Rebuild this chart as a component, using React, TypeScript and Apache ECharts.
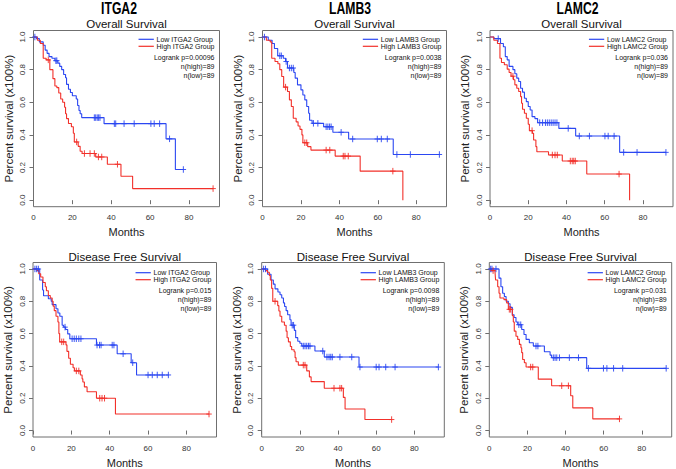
import React, { useEffect, useRef } from 'react';
import * as echarts from 'echarts';

// ---------- DATA ----------
const genes = ['ITGA2', 'LAMB3', 'LAMC2'];
const survivalTypes = ['Overall Survival', 'Disease Free Survival'];
const logrankP = [
  ['0.00096', '0.0038', '0.036'],
  ['0.015', '0.0098', '0.031'],
];
const nHigh = [[89, 89, 89], [89, 89, 89]];
const nLow = [[89, 89, 89], [89, 89, 89]];
const xTicks = [0, 20, 40, 60, 80];
const yTicks = [0, 0.2, 0.4, 0.6, 0.8, 1.0];

// ITGA2 overall survival
const itga2OsLowTimes = [1.5, 3, 5, 6, 7, 8, 9.5, 11, 12.5, 13.5, 14.5, 15.5, 16.5, 17, 18, 19, 20, 22, 22.7, 23.4, 24, 24.8, 36.3, 68.2, 73];
const itga2OsLowSurv = [0.99, 0.97, 0.95, 0.92, 0.9, 0.88, 0.87, 0.855, 0.84, 0.82, 0.8, 0.77, 0.75, 0.71, 0.68, 0.66, 0.64, 0.62, 0.58, 0.55, 0.53, 0.506, 0.469, 0.376, 0.188];
const itga2OsLowCensor = [0.7, 11.5, 12, 31.3, 32, 32.8, 33.5, 34.2, 41.6, 42.3, 46.6, 51.8, 60.4, 62.1, 64.9, 70, 77.1];
const itga2OsHighTimes = [2, 3.5, 5, 6.5, 8.4, 10, 11, 12, 13, 14, 15, 16, 16.5, 17, 18, 19.5, 20.5, 21, 23, 24, 25, 32, 38, 45, 51];
const itga2OsHighSurv = [0.98, 0.96, 0.87, 0.86, 0.8, 0.745, 0.7, 0.69, 0.657, 0.62, 0.6, 0.57, 0.53, 0.5, 0.47, 0.45, 0.41, 0.357, 0.33, 0.3, 0.286, 0.265, 0.22, 0.147, 0.071];
const itga2OsHighCensor = [7.6, 22.2, 26.2, 29.1, 31.3, 33.4, 35.1, 43.2, 92.4];

// LAMB3 overall survival
const lamb3OsLowTimes = [3, 5, 6.2, 7.9, 10.8, 12, 13, 16.3, 17, 18.2, 20, 21, 22, 23, 24, 24.5, 25.8, 31.8, 36.6, 44.8, 68];
const lamb3OsLowSurv = [0.98, 0.96, 0.93, 0.885, 0.87, 0.85, 0.81, 0.783, 0.748, 0.707, 0.676, 0.645, 0.615, 0.574, 0.533, 0.49, 0.471, 0.45, 0.416, 0.375, 0.28];
const lamb3OsLowCensor = [1, 9, 9.8, 12.3, 14, 15, 16, 26.5, 28.8, 33.1, 34, 34.9, 35.7, 40.9, 46.9, 59.7, 61.8, 64.9, 69.9, 76.9, 92];
const lamb3OsHighTimes = [2, 4, 4.8, 6.5, 8, 9, 10, 11, 13, 14, 15, 16, 17.5, 18.5, 19.5, 20.5, 21, 23.5, 25.2, 37.8, 50.8, 73];
const lamb3OsHighSurv = [0.98, 0.97, 0.87, 0.85, 0.836, 0.8, 0.758, 0.693, 0.666, 0.615, 0.574, 0.502, 0.48, 0.455, 0.434, 0.4, 0.352, 0.328, 0.307, 0.27, 0.178, 0.0];
const lamb3OsHighCensor = [12, 22, 23, 33.1, 35, 42, 42.9, 44.6, 67.8];

// LAMC2 overall survival
const lamc2OsLowTimes = [2, 5.5, 7, 8, 9, 10, 12, 13, 14, 15, 16, 17, 18, 19, 20, 21, 22, 23.5, 24.9, 36, 44.8, 67.8];
const lamc2OsLowSurv = [0.99, 0.96, 0.94, 0.88, 0.86, 0.82, 0.8, 0.775, 0.748, 0.727, 0.686, 0.662, 0.625, 0.604, 0.574, 0.553, 0.512, 0.5, 0.475, 0.44, 0.393, 0.293];
const lamc2OsLowCensor = [4.3, 26, 27.5, 29, 30, 31, 32, 33, 34, 35, 40.9, 46.7, 52, 60.1, 61.8, 64.9, 69.9, 76.9, 92];
const lamc2OsHighTimes = [2, 3.9, 5.2, 6, 7.5, 9, 10, 11, 12.3, 13, 14, 15, 16, 16.5, 17, 18, 19, 20, 20.6, 22.2, 22.8, 24, 24.5, 30.6, 37.8, 50.6, 73];
const lamc2OsHighSurv = [0.98, 0.96, 0.87, 0.844, 0.83, 0.803, 0.783, 0.76, 0.738, 0.707, 0.686, 0.666, 0.635, 0.594, 0.557, 0.533, 0.502, 0.465, 0.426, 0.41, 0.369, 0.328, 0.297, 0.277, 0.24, 0.16, 0.0];
const lamc2OsHighCensor = [12, 22, 32.6, 34, 35.2, 42, 43, 43.8, 44.6, 67.5];

// ITGA2 disease free survival
const itga2DfsLowTimes = [3.5, 5, 5.5, 8, 9.5, 10, 12, 13, 14, 15.2, 16, 17, 18.1, 19.2, 33.1, 43.9, 51.2, 54];
const itga2DfsLowSurv = [0.932, 0.87, 0.834, 0.816, 0.8, 0.779, 0.754, 0.727, 0.707, 0.652, 0.64, 0.625, 0.598, 0.568, 0.529, 0.475, 0.42, 0.344];
const itga2DfsLowCensor = [1, 1.9, 2.8, 16.7, 20.4, 21.5, 22.6, 23.9, 25, 33.4, 34.7, 35.5, 41.3, 42.2, 47, 52, 60, 62.2, 64.8, 67.4, 70.6];
const itga2DfsHighTimes = [2, 3, 4, 5.2, 6.4, 7, 8, 9, 10, 10.5, 11.1, 12, 13, 13.5, 13.9, 17.2, 17.7, 18.6, 19.5, 20.9, 21.6, 24.7, 25.6, 26, 26.8, 28.2, 33.1, 43];
const itga2DfsHighSurv = [0.99, 0.97, 0.95, 0.916, 0.89, 0.865, 0.836, 0.82, 0.8, 0.77, 0.742, 0.707, 0.672, 0.6, 0.549, 0.53, 0.49, 0.447, 0.41, 0.389, 0.369, 0.344, 0.32, 0.3, 0.27, 0.24, 0.2, 0.102];
const itga2DfsHighCensor = [15, 16, 22.6, 23.9, 34.8, 36, 37.3, 91.8];

// LAMB3 disease free survival
const lamb3DfsLowTimes = [3.1, 4.9, 6.1, 7, 8.5, 9.6, 10.5, 11.4, 12, 12.8, 13.6, 14.8, 15.4, 17.1, 17.8, 18.9, 20, 21, 27.9, 32.8, 51];
const lamb3DfsLowSurv = [0.967, 0.932, 0.906, 0.877, 0.857, 0.84, 0.82, 0.79, 0.768, 0.742, 0.717, 0.686, 0.652, 0.62, 0.575, 0.553, 0.54, 0.523, 0.492, 0.455, 0.393];
const lamb3DfsLowCensor = [1, 2, 16, 16.7, 21.8, 22.7, 23.6, 24.5, 25.3, 32, 34.2, 35.3, 36.2, 37, 41, 47.2, 51.5, 60, 61.5, 65, 69.9, 92.6];
const lamb3DfsHighTimes = [2, 3, 4, 4.5, 5.2, 5.8, 8.4, 9, 9.6, 10.5, 11.9, 12.8, 13.3, 14, 15, 15.7, 17, 17.5, 18, 19.2, 23.6, 25, 25.9, 32.8, 42.8, 43.7, 54.1];
const lamb3DfsHighSurv = [0.99, 0.98, 0.96, 0.932, 0.88, 0.8, 0.773, 0.74, 0.707, 0.672, 0.652, 0.615, 0.574, 0.549, 0.52, 0.5, 0.488, 0.451, 0.426, 0.405, 0.369, 0.332, 0.303, 0.262, 0.205, 0.133, 0.068];
const lamb3DfsHighCensor = [7, 21.8, 22.7, 37.9, 41, 41.9, 68.1];

// LAMC2 disease free survival
const lamc2DfsLowTimes = [5.1, 6.1, 7, 7.9, 8.8, 10, 10.9, 12.1, 13, 14, 14.9, 17, 18.2, 19.3, 21, 23.1, 28.9, 31.9, 32.7, 51.1];
const lamc2DfsLowSurv = [0.943, 0.89, 0.85, 0.83, 0.8, 0.785, 0.762, 0.717, 0.7, 0.672, 0.655, 0.625, 0.594, 0.564, 0.543, 0.523, 0.488, 0.467, 0.451, 0.385];
const lamc2DfsLowCensor = [0.7, 1.4, 3.5, 15.5, 16.5, 24.5, 25.5, 33.6, 34.5, 35.4, 36.8, 42, 46.8, 52, 59.9, 61.7, 65.2, 70, 92.8];
const lamc2DfsHighTimes = [1, 3, 3.3, 4.4, 5.1, 5.6, 7.7, 9.1, 10, 12.1, 12.6, 13.1, 14, 14.9, 15.8, 16.6, 17, 17.5, 18.4, 19.3, 25.7, 32.7, 42.7, 43.8, 54.3];
const lamc2DfsHighSurv = [0.99, 0.98, 0.932, 0.89, 0.85, 0.82, 0.81, 0.79, 0.75, 0.711, 0.672, 0.615, 0.584, 0.564, 0.533, 0.512, 0.482, 0.44, 0.42, 0.393, 0.318, 0.277, 0.215, 0.14, 0.072];
const lamc2DfsHighCensor = [2, 10.5, 11.2, 21.7, 22.8, 38, 41.5, 68.3];

// ---------- LAYOUT / STYLE ----------
const W = 676;
const H = 469;
const FONT = '"Liberation Sans", Arial, Helvetica, sans-serif';
const BLUE = '#2b47f2';
const RED = '#f2302a';
const X_MAX = 95.7;
const Y_MIN = -0.04;
const Y_MAX = 1.04;
const boxLeft = [[33.5, 262.5, 490], [33, 261.7, 489.3]];
const boxRight = [[219.5, 446.5, 673], [216.5, 444.3, 671.7]];
const boxTop = [30.5, 262.5];
const boxBottom = [206.7, 437.5];
const geneTitleX = [119, 350, 577.5];

type Curve = { times: number[]; surv: number[]; censor: number[] };
const panels: { low: Curve; high: Curve }[][] = [
  [
    { low: { times: itga2OsLowTimes, surv: itga2OsLowSurv, censor: itga2OsLowCensor }, high: { times: itga2OsHighTimes, surv: itga2OsHighSurv, censor: itga2OsHighCensor } },
    { low: { times: lamb3OsLowTimes, surv: lamb3OsLowSurv, censor: lamb3OsLowCensor }, high: { times: lamb3OsHighTimes, surv: lamb3OsHighSurv, censor: lamb3OsHighCensor } },
    { low: { times: lamc2OsLowTimes, surv: lamc2OsLowSurv, censor: lamc2OsLowCensor }, high: { times: lamc2OsHighTimes, surv: lamc2OsHighSurv, censor: lamc2OsHighCensor } },
  ],
  [
    { low: { times: itga2DfsLowTimes, surv: itga2DfsLowSurv, censor: itga2DfsLowCensor }, high: { times: itga2DfsHighTimes, surv: itga2DfsHighSurv, censor: itga2DfsHighCensor } },
    { low: { times: lamb3DfsLowTimes, surv: lamb3DfsLowSurv, censor: lamb3DfsLowCensor }, high: { times: lamb3DfsHighTimes, surv: lamb3DfsHighSurv, censor: lamb3DfsHighCensor } },
    { low: { times: lamc2DfsLowTimes, surv: lamc2DfsLowSurv, censor: lamc2DfsLowCensor }, high: { times: lamc2DfsHighTimes, surv: lamc2DfsHighSurv, censor: lamc2DfsHighCensor } },
  ],
];

function stepValue(c: Curve, t: number): number {
  let v = 1;
  for (let i = 0; i < c.times.length; i++) {
    if (c.times[i] <= t) v = c.surv[i];
  }
  return v;
}

function stepData(c: Curve): number[][] {
  const pts: number[][] = [[0, 1]];
  c.times.forEach((t, i) => pts.push([t, c.surv[i]]));
  const lastT = c.times[c.times.length - 1];
  const lastC = c.censor.length ? c.censor[c.censor.length - 1] : 0;
  const end = Math.max(lastT, lastC);
  pts.push([end, c.surv[c.surv.length - 1]]);
  return pts;
}

let measureCtx: CanvasRenderingContext2D | null = null;
function textWidth(text: string, size: number): number {
  if (!measureCtx) measureCtx = document.createElement('canvas').getContext('2d');
  if (!measureCtx) return text.length * size * 0.55;
  measureCtx.font = `${size}px ${FONT}`;
  return measureCtx.measureText(text).width;
}

const PLUS = 'path://M0,5L10,5M5,0L5,10';

function buildOption() {
  const grid: any[] = [];
  const xAxis: any[] = [];
  const yAxis: any[] = [];
  const series: any[] = [];
  const graphic: any[] = [];
  let idx = 0;
  for (let r = 0; r < 2; r++) {
    for (let c = 0; c < 3; c++) {
      const L = boxLeft[r][c];
      const R = boxRight[r][c];
      const T = boxTop[r];
      const B = boxBottom[r];
      grid.push({
        left: L, top: T, width: R - L, height: B - T,
        show: true, borderColor: '#6f6f6f', borderWidth: 1, backgroundColor: 'transparent',
      });
      xAxis.push({
        type: 'value', gridIndex: idx, min: 0, max: X_MAX,
        axisLine: { show: false },
        axisTick: { show: true, length: 4, inside: false, customValues: xTicks, lineStyle: { color: '#6f6f6f', width: 1 } },
        axisLabel: { customValues: xTicks, fontSize: 8, color: '#333', margin: 7, fontFamily: FONT },
        splitLine: { show: false },
        name: 'Months', nameLocation: 'middle', nameGap: 20,
        nameTextStyle: { fontSize: 11, color: '#222', fontFamily: FONT },
      });
      yAxis.push({
        type: 'value', gridIndex: idx, min: Y_MIN, max: Y_MAX,
        axisLine: { show: false },
        axisTick: { show: true, length: 4, inside: false, customValues: yTicks, lineStyle: { color: '#6f6f6f', width: 1 } },
        axisLabel: {
          customValues: yTicks, fontSize: 8, color: '#333', margin: 7, rotate: 90, fontFamily: FONT,
          formatter: (v: number) => v.toFixed(1),
        },
        splitLine: { show: false },
        name: 'Percent survival (x100%)', nameLocation: 'middle', nameGap: 19, nameRotate: 90,
        nameTextStyle: { fontSize: 11.5, color: '#222', fontFamily: FONT },
      });
      const p = panels[r][c];
      const curves: [Curve, string, string][] = [
        [p.low, BLUE, 'low'],
        [p.high, RED, 'high'],
      ];
      curves.forEach(([cv, col, nm]) => {
        series.push({
          type: 'line', name: `${genes[c]}-${r}-${nm}`, xAxisIndex: idx, yAxisIndex: idx,
          data: stepData(cv), step: 'end', showSymbol: false, symbol: 'none',
          lineStyle: { color: col, width: 1.1 }, silent: true, z: 3,
        });
        series.push({
          type: 'scatter', name: `${genes[c]}-${r}-${nm}-censor`, xAxisIndex: idx, yAxisIndex: idx,
          data: cv.censor.map((t) => [t, stepValue(cv, t)]),
          symbol: PLUS, symbolSize: [5.5, 6.5],
          itemStyle: { color: 'transparent', borderColor: col, borderWidth: 0.9, opacity: 1 },
          silent: true, z: 4,
        });
      });

      // subtitle
      graphic.push({
        type: 'text', x: (L + R) / 2, y: r === 0 ? 23.5 : 257,
        style: { text: survivalTypes[r], fontSize: 11.5, fill: '#111', fontFamily: FONT, textAlign: 'center', textVerticalAlign: 'middle' },
      });

      // legend
      const fs = 7;
      const textRight = R - 5;
      const highText = `High ${genes[c]} Group`;
      const lowText = `Low ${genes[c]} Group`;
      const tl = textRight - textWidth(highText, fs);
      const offs = r === 0 ? [8.8, 15.8, 26.8, 36, 44.6] : [10.2, 17.2, 27.6, 36.6, 45.6];
      graphic.push({ type: 'line', shape: { x1: tl - 18, y1: T + offs[0], x2: tl - 2.7, y2: T + offs[0] }, style: { stroke: BLUE, lineWidth: 1.2 } });
      graphic.push({ type: 'line', shape: { x1: tl - 18, y1: T + offs[1], x2: tl - 2.7, y2: T + offs[1] }, style: { stroke: RED, lineWidth: 1.2 } });
      graphic.push({ type: 'text', x: tl, y: T + offs[0], style: { text: lowText, fontSize: fs, lineHeight: 7, fill: '#111', fontFamily: FONT, textAlign: 'left', textVerticalAlign: 'middle' } });
      graphic.push({ type: 'text', x: tl, y: T + offs[1], style: { text: highText, fontSize: fs, lineHeight: 7, fill: '#111', fontFamily: FONT, textAlign: 'left', textVerticalAlign: 'middle' } });
      const infoLines = [`Logrank p=${logrankP[r][c]}`, `n(high)=${nHigh[r][c]}`, `n(low)=${nLow[r][c]}`];
      infoLines.forEach((t, k) => {
        graphic.push({ type: 'text', x: textRight, y: T + offs[2 + k], style: { text: t, fontSize: fs, lineHeight: 7, fill: '#111', fontFamily: FONT, textAlign: 'right', textVerticalAlign: 'middle' } });
      });
      idx++;
    }
  }
  // gene titles
  genes.forEach((g, c) => {
    graphic.push({
      type: 'text', x: geneTitleX[c], y: 8.3, scaleX: 0.76,
      style: { text: g, fontSize: 16, lineHeight: 15, fontWeight: 'bold', fill: '#000', fontFamily: FONT, textAlign: 'center', textVerticalAlign: 'middle' },
    });
  });

  return {
    animation: false,
    backgroundColor: '#ffffff',
    grid, xAxis, yAxis, series, graphic,
  };
}

export default function App() {
  const ref = useRef<HTMLDivElement>(null);
  useEffect(() => {
    if (!ref.current) return;
    document.body.style.margin = '0';
    const chart = echarts.init(ref.current, undefined, { renderer: 'svg' });
    chart.setOption(buildOption());
    return () => chart.dispose();
  }, []);
  return <div ref={ref} style={{ position: 'fixed', left: 0, top: 0, width: W, height: H }} />;
}
